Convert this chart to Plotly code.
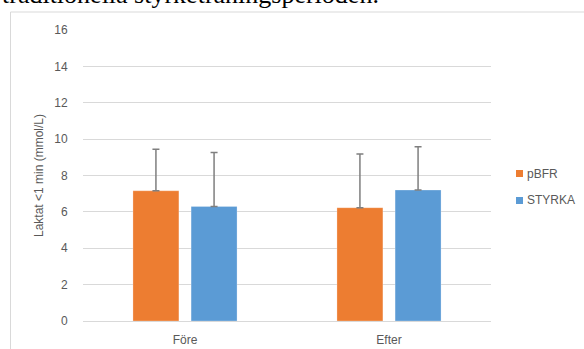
import plotly.graph_objects as go

categories = ["Före", "Efter"]
series_names = ["pBFR", "STYRKA"]
pbfr = [7.16, 6.23]
pbfr_err = [2.28, 2.95]
styrka = [6.30, 7.20]
styrka_err = [2.97, 2.38]
y_ticks = [0, 2, 4, 6, 8, 10, 12, 14, 16]

ORANGE = "#ED7D31"
BLUE = "#5B9BD5"
TXT = "#595959"
GRID = "#D9D9D9"
FONT = "Liberation Sans"

W, H = 584, 349
L, R, T, B = 83, 93, 30, 28
pw = W - L - R
ph = H - T - B

fig = go.Figure()
err_style = dict(type="data", symmetric=False, color="#7F7F7F", thickness=1.5, width=3.5)
fig.add_trace(go.Bar(x=categories, y=pbfr, name=series_names[0], marker=dict(color=ORANGE, line=dict(color="rgba(255,255,255,0.5)", width=0.5)),
                     error_y=dict(array=pbfr_err, arrayminus=[0, 0], **err_style), showlegend=False))
fig.add_trace(go.Bar(x=categories, y=styrka, name=series_names[1], marker=dict(color=BLUE, line=dict(color="rgba(255,255,255,0.5)", width=0.5)),
                     error_y=dict(array=styrka_err, arrayminus=[0, 0], **err_style), showlegend=False))

fig.update_layout(
    width=W, height=H,
    margin=dict(l=L, r=R, t=T, b=B, pad=0, autoexpand=False),
    paper_bgcolor="white", plot_bgcolor="white",
    barmode="group", bargap=0.43, bargroupgap=0.21,
    font=dict(family=FONT, size=12, color=TXT),
    showlegend=False,
    xaxis=dict(showgrid=False, showline=True, linecolor=GRID, linewidth=1,
               ticks="outside", ticklen=8, tickcolor="rgba(0,0,0,0)",
               tickfont=dict(size=12, color=TXT), fixedrange=True),
    yaxis=dict(range=[0, 16], tickvals=y_ticks, showgrid=True, gridcolor=GRID, gridwidth=1,
               zeroline=False, showline=False, ticks="outside", ticklen=12, tickcolor="rgba(0,0,0,0)",
               tickfont=dict(size=12, color=TXT),
               title=dict(text="Laktat <1 min (mmol/L)", font=dict(size=12, color=TXT), standoff=8)),
)

# legend (Excel style): small squares + labels
for i, (nm, col) in enumerate(zip(series_names, [ORANGE, BLUE])):
    cy = 173.5 + i * 27
    fig.add_shape(type="rect", xref="paper", yref="paper",
                  x0=(516 - L) / pw, x1=(523 - L) / pw,
                  y0=(H - B - (cy + 3.5)) / ph, y1=(H - B - (cy - 3.5)) / ph,
                  line=dict(width=0), fillcolor=col)
    fig.add_annotation(text=nm, xref="paper", yref="paper", x=(525 - L) / pw, xanchor="left",
                       y=(H - B - cy) / ph, yanchor="middle", showarrow=False,
                       font=dict(size=12, color=TXT))

# outer chart border (Excel chart area)
fig.add_shape(type="rect", xref="paper", yref="paper",
              x0=(10.5 - L) / pw, x1=2.0, y0=-1.0, y1=(H - B - 12) / ph,
              line=dict(color=GRID, width=1), fillcolor="rgba(0,0,0,0)", layer="below")

# clipped document text above the chart
fig.add_annotation(text="traditionella styrketräningsperioden.", xref="paper", yref="paper",
                   x=-L / pw, xanchor="left", y=(H - B + 22) / ph, yanchor="top",
                   showarrow=False, font=dict(family="Liberation Serif", size=26, color="black"))

fig.write_html("out.html")
